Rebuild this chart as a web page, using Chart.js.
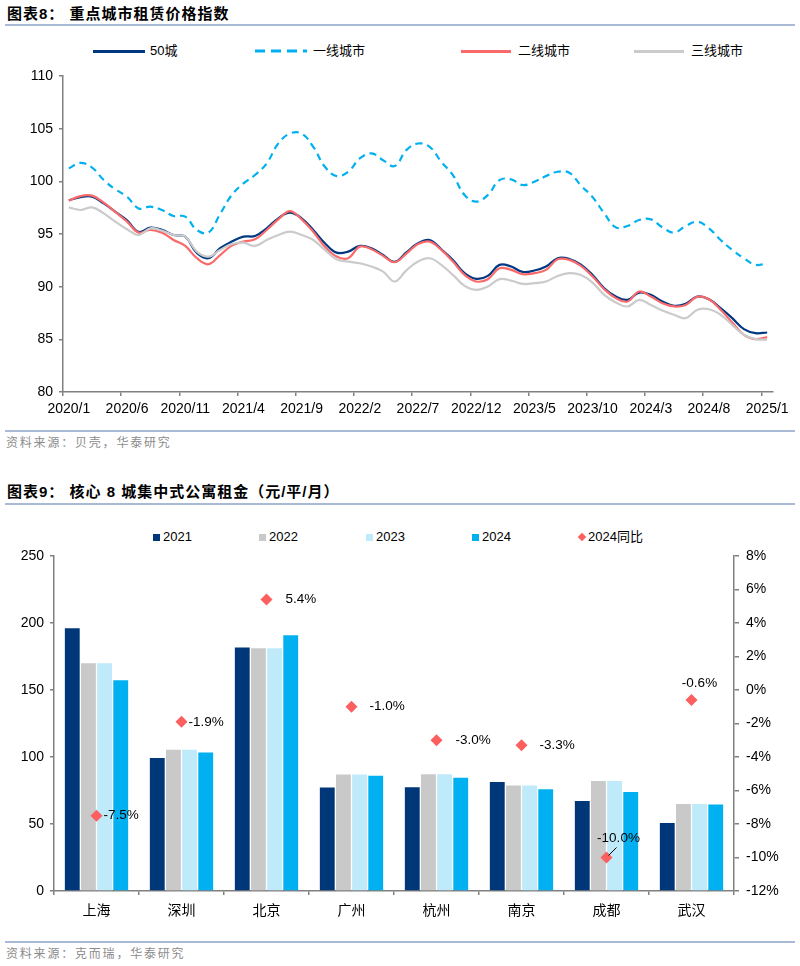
<!DOCTYPE html>
<html lang="zh-CN">
<head>
<meta charset="utf-8">
<title>重点城市租赁价格指数 / 核心8城集中式公寓租金</title>
<script src="https://cdn.jsdelivr.net/npm/chart.js@4.4.1/dist/chart.umd.min.js"></script>
<style>
body { margin: 0; background: #fff; }
#page { position: relative; width: 800px; height: 966px; overflow: hidden; font-family: "Liberation Sans", Arial, "Noto Sans CJK SC", sans-serif; }
.title { position: absolute; left: 7px; font: bold 15px "Liberation Sans", "Noto Sans CJK SC", sans-serif; letter-spacing: 1px; line-height: 20px; color: #000; white-space: nowrap; }
.rule { position: absolute; left: 5px; width: 790px; height: 2px; background: #a8bad4; }
.source { position: absolute; left: 6px; font: 12px "Noto Sans CJK SC", sans-serif; line-height: 16px; color: #8c8c8c; letter-spacing: 1.8px; white-space: nowrap; }
.lg { position: absolute; font: 13px "Liberation Sans", "Noto Sans CJK SC", sans-serif; line-height: 16px; color: #000; white-space: nowrap; }
.lgline { position: absolute; height: 3px; }
.lgbox { position: absolute; width: 7px; height: 7px; }
canvas { position: absolute; left: 0; }
</style>
</head>
<body>
<div id="page">
  <div class="title" style="top:4px">图表8： 重点城市租赁价格指数</div>
  <div class="rule" style="top:24px"></div>

  <!-- legend, chart 8 -->
  <div class="lgline" style="left:93px;top:50px;width:52px;background:#003882"></div>
  <div class="lg" style="left:150px;top:43px">50城</div>
  <svg style="position:absolute;left:255px;top:48px" width="52" height="6"><line x1="0" y1="3" x2="52" y2="3" stroke="#00b0f0" stroke-width="3" stroke-dasharray="10 6"/></svg>
  <div class="lg" style="left:313px;top:43px">一线城市</div>
  <div class="lgline" style="left:461px;top:50px;width:50px;background:#fa6a6a"></div>
  <div class="lg" style="left:518px;top:43px">二线城市</div>
  <div class="lgline" style="left:634px;top:50px;width:50px;background:#cbcbcb"></div>
  <div class="lg" style="left:691px;top:43px">三线城市</div>

  <canvas id="indexChart" width="800" height="400" style="top:30px"></canvas>

  <div class="rule" style="top:430px"></div>
  <div class="source" style="top:434px">资料来源：贝壳，华泰研究</div>

  <div class="title" style="top:482px">图表9： 核心 8 城集中式公寓租金（元/平/月）</div>
  <div class="rule" style="top:503px"></div>

  <!-- legend, chart 9 -->
  <div class="lgbox" style="left:153px;top:534px;background:#003778"></div>
  <div class="lg" style="left:163px;top:529px">2021</div>
  <div class="lgbox" style="left:259px;top:534px;background:#c9c9c9"></div>
  <div class="lg" style="left:269px;top:529px">2022</div>
  <div class="lgbox" style="left:366px;top:534px;background:#bfeaf9"></div>
  <div class="lg" style="left:376px;top:529px">2023</div>
  <div class="lgbox" style="left:472px;top:534px;background:#00b0f0"></div>
  <div class="lg" style="left:482px;top:529px">2024</div>
  <div class="lgbox" style="left:579px;top:534px;width:6px;height:6px;background:#fb5f5f;transform:rotate(45deg)"></div>
  <div class="lg" style="left:588px;top:529px">2024同比</div>

  <canvas id="rentChart" width="800" height="425" style="top:510px"></canvas>

  <div class="rule" style="top:941px"></div>
  <div class="source" style="top:945px">资料来源：克而瑞，华泰研究</div>
</div>

<script>
// Chart 8 data: monthly rent index, 2020/1 - 2025/1
const months = [
    '2020/1', '2020/2', '2020/3', '2020/4', '2020/5', '2020/6', '2020/7', '2020/8', '2020/9', '2020/10', '2020/11', '2020/12',
    '2021/1', '2021/2', '2021/3', '2021/4', '2021/5', '2021/6', '2021/7', '2021/8', '2021/9', '2021/10', '2021/11', '2021/12',
    '2022/1', '2022/2', '2022/3', '2022/4', '2022/5', '2022/6', '2022/7', '2022/8', '2022/9', '2022/10', '2022/11', '2022/12',
    '2023/1', '2023/2', '2023/3', '2023/4', '2023/5', '2023/6', '2023/7', '2023/8', '2023/9', '2023/10', '2023/11', '2023/12',
    '2024/1', '2024/2', '2024/3', '2024/4', '2024/5', '2024/6', '2024/7', '2024/8', '2024/9', '2024/10', '2024/11', '2024/12',
    '2025/1'
];

const city50 = [
    98.2, 98.5, 98.55, 97.9, 97.1, 96.3, 95.2, 95.6, 95.4, 94.9, 94.75, 93.2,
    92.7, 93.65, 94.28, 94.75, 94.81, 95.54, 96.49, 97.02, 96.49, 95.38, 94.12, 93.23,
    93.33, 93.87, 93.65, 93.01, 92.35, 93.25, 94.12, 94.43, 93.55, 92.54, 91.28, 90.74,
    91.02, 92.07, 91.91, 91.4, 91.53, 91.91, 92.7, 92.63, 92.1, 91.1, 89.85, 89.06,
    88.75, 89.44, 89.22, 88.59, 88.18, 88.37, 89.06, 88.81, 87.96, 87.01, 85.97, 85.59,
    85.65
];

const tier1 = [
    101.23, 101.76, 101.3, 100.12, 99.24, 98.54, 97.43, 97.59, 97.28, 96.71, 96.65, 95.38,
    95.13, 96.9, 98.7, 99.8, 100.6, 101.7, 103.6, 104.54, 104.54, 103.28, 101.38, 100.5,
    100.91, 102.17, 102.65, 102.01, 101.45, 102.96, 103.59, 103.28, 101.86, 100.59, 98.7, 98.07,
    98.7, 100.12, 100.18, 99.65, 99.96, 100.5, 100.91, 100.81, 99.6, 98.5, 96.96, 95.63,
    95.76, 96.33, 96.39, 95.63, 95.13, 95.76, 96.17, 95.54, 94.43, 93.49, 92.7, 92.07,
    92.22
];

const tier2 = [
    98.16, 98.6, 98.64, 97.97, 97.1, 96.17, 95.13, 95.38, 95.13, 94.43, 93.87, 92.7,
    92.13, 93.0, 93.9, 94.28, 94.5, 95.38, 96.39, 97.18, 96.39, 95.22, 93.8, 92.86,
    92.7, 93.8, 93.55, 92.92, 92.32, 93.13, 94.05, 94.28, 93.49, 92.38, 91.12, 90.49,
    90.71, 91.75, 91.59, 91.18, 91.28, 91.59, 92.6, 92.54, 91.97, 90.96, 89.76, 88.91,
    88.59, 89.54, 89.06, 88.43, 88.12, 88.27, 89.06, 88.81, 87.8, 86.6, 85.43, 85.02,
    85.21
];

const tier3 = [
    97.53, 97.28, 97.53, 96.96, 96.17, 95.45, 94.9, 95.54, 95.32, 94.9, 94.75, 93.33,
    92.85, 93.49, 94.05, 94.18, 93.87, 94.43, 94.91, 95.22, 94.91, 94.43, 93.49, 92.6,
    92.38, 92.22, 91.91, 91.43, 90.49, 91.55, 92.38, 92.7, 92.07, 91.12, 90.08, 89.7,
    90.01, 90.71, 90.58, 90.26, 90.33, 90.49, 91.02, 91.28, 91.1, 90.39, 89.22, 88.5,
    88.12, 88.75, 88.27, 87.74, 87.33, 87.01, 87.8, 87.86, 87.33, 86.38, 85.43, 85.02,
    84.96
];

// Chart 9 data: apartment rent (yuan / m2 / month)
const cities = ['上海', '深圳', '北京', '广州', '杭州', '南京', '成都', '武汉'];
const rent2021 = [196, 99.3, 181.7, 77.3, 77.5, 81.3, 67.1, 50.7];
const rent2022 = [170, 105.4, 181.2, 87, 87.2, 78.7, 82, 65];
const rent2023 = [170, 105.4, 181.2, 87, 87.2, 78.7, 82, 65];
const rent2024 = [157.2, 103.4, 190.8, 86.1, 84.6, 76, 73.8, 64.6];
const yoy2024 = [-7.5, -1.9, 5.4, -1.0, -3.0, -3.3, -10.0, -0.6];

// label placement for the yoy markers: [dx, dy, align, leader line]
const yoyLabelPos = [
    [7, 0, 'left', false],
    [7, 0, 'left', false],
    [19, 0, 'left', false],
    [18, 0, 'left', false],
    [19, 0, 'left', false],
    [18, 0, 'left', false],
    [12, -19, 'center', true],
    [8, -17, 'center', false]
];

const axisGray = '#808080';
const numFont = { family: '"Liberation Sans", Arial, sans-serif', size: 14 };
const cjkFont = { family: '"Noto Sans CJK SC", sans-serif', size: 14 };

// Chart 8 - rent price index
new Chart(document.getElementById('indexChart'), {
    type: 'line',
    data: {
        labels: months,
        datasets: [
            { label: '三线城市', data: tier3, borderColor: '#cbcbcb', borderWidth: 2.2, order: 1 },
            { label: '二线城市', data: tier2, borderColor: '#fa6a6a', borderWidth: 2.2, order: 2 },
            { label: '50城', data: city50, borderColor: '#003882', borderWidth: 2.2, order: 3 },
            { label: '一线城市', data: tier1, borderColor: '#00b0f0', borderWidth: 2.2, borderDash: [7, 5], order: 4 }
        ]
    },
    options: {
        responsive: false,
        animation: false,
        layout: { padding: { top: 46, right: 27, left: 0, bottom: 0 } },
        elements: {
            point: { radius: 0 },
            line: { tension: 0.4, fill: false }
        },
        plugins: {
            legend: { display: false },
            tooltip: { enabled: false }
        },
        scales: {
            x: {
                offset: true,
                grid: {
                    offset: true,
                    drawOnChartArea: false,
                    tickLength: 4,
                    lineWidth: 1.5,
                    color: ctx => (ctx.index !== undefined && ctx.index % 5 === 0) ? axisGray : 'rgba(0,0,0,0)'
                },
                border: { color: axisGray, width: 1.5 },
                ticks: {
                    autoSkip: false,
                    maxRotation: 0,
                    minRotation: 0,
                    padding: 5,
                    color: '#000',
                    font: numFont,
                    callback: (v, i) => i % 5 === 0 ? months[i] : ''
                },
                afterFit: s => { s.height = 38; }
            },
            y: {
                min: 80,
                max: 110,
                ticks: { stepSize: 5, padding: 6, color: '#000', font: numFont },
                grid: { drawOnChartArea: false, tickLength: 4, lineWidth: 1.5, color: axisGray },
                border: { color: axisGray, width: 1.5 },
                afterFit: s => { s.width = 63; }
            }
        }
    }
});

// draws the yoy value next to each diamond
const yoyLabels = {
    id: 'yoyLabels',
    afterDatasetsDraw(chart) {
        const meta = chart.getDatasetMeta(0);
        const ctx = chart.ctx;
        ctx.save();
        ctx.font = '13.5px "Liberation Sans", Arial, sans-serif';
        ctx.fillStyle = '#000';
        ctx.strokeStyle = '#000';
        ctx.lineWidth = 1;
        ctx.textBaseline = 'middle';
        meta.data.forEach((pt, i) => {
            const [dx, dy, align, leader] = yoyLabelPos[i];
            ctx.textAlign = align;
            ctx.fillText(yoy2024[i].toFixed(1) + '%', pt.x + dx, pt.y + dy);
            if (leader) {
                ctx.beginPath();
                ctx.moveTo(pt.x + 2, pt.y - 2);
                ctx.lineTo(pt.x + 10, pt.y - 10);
                ctx.stroke();
            }
        });
        ctx.restore();
    }
};

// Chart 9 - apartment rents
new Chart(document.getElementById('rentChart'), {
    type: 'bar',
    data: {
        labels: cities,
        datasets: [
            {
                type: 'line',
                label: '2024同比',
                data: yoy2024,
                yAxisID: 'y1',
                showLine: false,
                pointStyle: 'rectRot',
                pointRadius: 6,
                pointBackgroundColor: '#fb5f5f',
                pointBorderWidth: 0,
                borderWidth: 0,
                order: 0
            },
            { label: '2021', data: rent2021, backgroundColor: '#003778', yAxisID: 'y', order: 1 },
            { label: '2022', data: rent2022, backgroundColor: '#c9c9c9', yAxisID: 'y', order: 1 },
            { label: '2023', data: rent2023, backgroundColor: '#bfeaf9', yAxisID: 'y', order: 1 },
            { label: '2024', data: rent2024, backgroundColor: '#00b0f0', yAxisID: 'y', order: 1 }
        ]
    },
    options: {
        responsive: false,
        animation: false,
        layout: { padding: { top: 46, right: 0, left: 0, bottom: 0 } },
        datasets: { bar: { categoryPercentage: 0.76, barPercentage: 0.92 } },
        plugins: {
            legend: { display: false },
            tooltip: { enabled: false }
        },
        scales: {
            x: {
                offset: true,
                grid: { offset: true, drawOnChartArea: false, tickLength: 4, lineWidth: 1.5, color: axisGray },
                border: { color: axisGray, width: 1.5 },
                ticks: { padding: 6, color: '#000', font: cjkFont },
                afterFit: s => { s.height = 44; }
            },
            y: {
                position: 'left',
                min: 0,
                max: 250,
                ticks: { stepSize: 50, padding: 6, color: '#000', font: numFont },
                grid: { drawOnChartArea: false, tickLength: 4, lineWidth: 1.5, color: axisGray },
                border: { color: axisGray, width: 1.5 },
                afterFit: s => { s.width = 54; }
            },
            y1: {
                position: 'right',
                min: -12,
                max: 8,
                ticks: { stepSize: 2, padding: 7, color: '#000', font: numFont, callback: v => v + '%' },
                grid: { drawOnChartArea: false, tickLength: 5, lineWidth: 1.5, color: axisGray },
                border: { color: axisGray, width: 1.5 },
                afterFit: s => { s.width = 66; }
            }
        }
    },
    plugins: [yoyLabels]
});
</script>
</body>
</html>
